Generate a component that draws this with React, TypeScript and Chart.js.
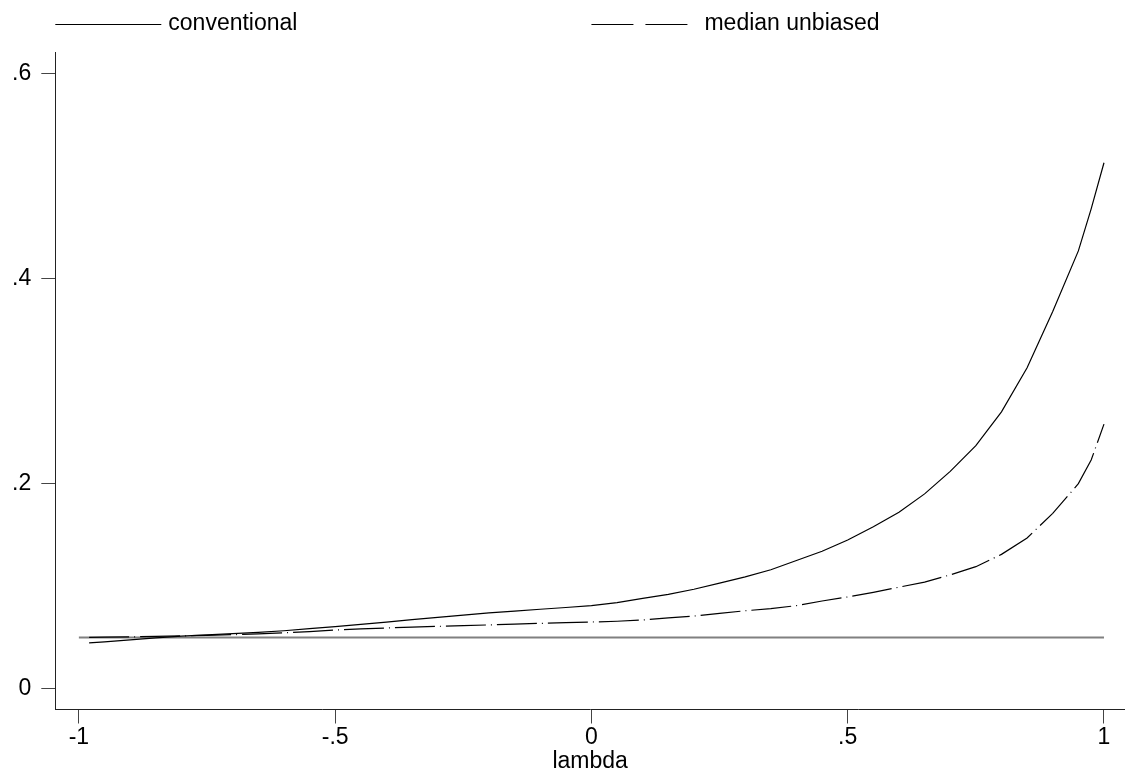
import React, { useEffect, useRef } from "react";
import { Chart, registerables } from "chart.js";

Chart.register(...registerables);

// lambda grid
const lambdaValues = [
  -0.98, -0.95, -0.9, -0.85, -0.8, -0.75, -0.7, -0.65, -0.6, -0.55, -0.5, -0.45, -0.4, -0.35, -0.3,
  -0.25, -0.2, -0.15, -0.1, -0.05, 0, 0.05, 0.1, 0.15, 0.2, 0.25, 0.3, 0.35, 0.4, 0.45, 0.5, 0.55,
  0.6, 0.65, 0.7, 0.75, 0.8, 0.85, 0.9, 0.95, 0.975, 1.0,
];

// conventional (solid)
const conventional = [
  0.0446, 0.0457, 0.0476, 0.0495, 0.0513, 0.0525, 0.0538, 0.055, 0.0565, 0.0585, 0.0605, 0.0627,
  0.065, 0.0673, 0.0696, 0.0718, 0.074, 0.0757, 0.0775, 0.0792, 0.081, 0.084, 0.088, 0.092, 0.097,
  0.103, 0.109, 0.116, 0.125, 0.134, 0.145, 0.158, 0.172, 0.19, 0.212, 0.237, 0.27, 0.313, 0.368,
  0.427, 0.468, 0.513,
];

// median unbiased (dashed)
const medianUnbiased = [
  0.05, 0.0502, 0.0505, 0.051, 0.0515, 0.052, 0.0527, 0.0535, 0.0545, 0.0557, 0.0573, 0.0583,
  0.0592, 0.06, 0.0608, 0.0615, 0.0622, 0.063, 0.0637, 0.0645, 0.065, 0.0658, 0.067, 0.069, 0.0708,
  0.0735, 0.076, 0.078, 0.081, 0.0855, 0.0895, 0.094, 0.099, 0.104, 0.111, 0.119, 0.131, 0.147,
  0.171, 0.2, 0.223, 0.258,
];

// nominal level reference line
const referenceX = [-1, 1];
const referenceY = [0.05, 0.05];

const xTickValues = [-1, -0.5, 0, 0.5, 1];
const xTickLabels = ["-1", "-.5", "0", ".5", "1"];
const yTickValues = [0, 0.2, 0.4, 0.6];
const yTickLabels = ["0", ".2", ".4", ".6"];
const seriesLabels = ["conventional", "median unbiased"];
const xAxisTitle = "lambda";

const FONT = "'Liberation Sans', Arial, Helvetica, sans-serif";

const legendPlugin = {
  id: "stataLegend",
  afterDraw(chart: any) {
    const ctx = chart.ctx;
    const left = chart.chartArea.left;
    const mid = chart.scales.x.getPixelForValue(0);
    ctx.save();
    ctx.strokeStyle = "#000";
    ctx.lineWidth = 1.2;
    ctx.beginPath();
    ctx.moveTo(left, 24.5);
    ctx.lineTo(left + 106, 24.5);
    ctx.stroke();
    ctx.setLineDash([42, 12]);
    ctx.beginPath();
    ctx.moveTo(mid, 24.5);
    ctx.lineTo(mid + 97, 24.5);
    ctx.stroke();
    ctx.setLineDash([]);
    ctx.font = `23px ${FONT}`;
    ctx.fillStyle = "#000";
    ctx.textBaseline = "alphabetic";
    ctx.textAlign = "left";
    ctx.fillText(seriesLabels[0], left + 113, 30);
    ctx.fillText(seriesLabels[1], mid + 113, 30);
    ctx.restore();
  },
};

export default function App() {
  const canvasRef = useRef<HTMLCanvasElement | null>(null);

  useEffect(() => {
    if (!canvasRef.current) return;
    const toPoints = (xs: number[], ys: number[]) => xs.map((x, i) => ({ x, y: ys[i] }));
    const chart = new Chart(canvasRef.current, {
      type: "line",
      data: {
        datasets: [
          {
            label: seriesLabels[0],
            data: toPoints(lambdaValues, conventional),
            borderColor: "#000",
            borderWidth: 1.2,
            pointRadius: 0,
            tension: 0,
            fill: false,
            order: 1,
          },
          {
            label: seriesLabels[1],
            data: toPoints(lambdaValues, medianUnbiased),
            borderColor: "#000",
            borderWidth: 1.2,
            borderDash: [40, 5, 1, 5],
            pointRadius: 0,
            tension: 0,
            fill: false,
            order: 2,
          },
          {
            label: "reference",
            data: toPoints(referenceX, referenceY),
            borderColor: "#808080",
            borderWidth: 2,
            pointRadius: 0,
            fill: false,
            order: 3,
          },
        ],
      },
      options: {
        responsive: false,
        animation: false,
        layout: { padding: { top: 52, right: 0, left: 0, bottom: 0 } },
        plugins: {
          legend: { display: false },
          tooltip: { enabled: false },
        },
        scales: {
          x: {
            type: "linear",
            min: -1.046,
            max: 1.041,
            afterBuildTicks: (scale: any) => {
              scale.ticks = xTickValues.map((v) => ({ value: v }));
            },
            afterFit: (scale: any) => {
              scale.height = 63.5;
            },
            border: { display: true, color: "#222", width: 1 },
            grid: { drawOnChartArea: false, drawTicks: true, tickLength: 14, color: "#444" },
            ticks: {
              color: "#000",
              font: { size: 23, family: FONT },
              padding: 0,
              maxRotation: 0,
              autoSkip: false,
              callback: (value: any) => {
                const i = xTickValues.indexOf(Number(value));
                return i >= 0 ? xTickLabels[i] : "";
              },
            },
            title: {
              display: true,
              text: xAxisTitle,
              color: "#000",
              font: { size: 23, family: FONT, lineHeight: 1 },
              padding: { top: 0, bottom: 0 },
            },
          },
          y: {
            type: "linear",
            min: -0.0203,
            max: 0.621,
            afterBuildTicks: (scale: any) => {
              scale.ticks = yTickValues.map((v) => ({ value: v }));
            },
            afterFit: (scale: any) => {
              scale.width = 55.3;
            },
            border: { display: true, color: "#222", width: 1 },
            grid: { drawOnChartArea: false, drawTicks: true, tickLength: 14, color: "#444" },
            ticks: {
              color: "#000",
              font: { size: 23, family: FONT },
              padding: 10,
              autoSkip: false,
              callback: (value: any) => {
                const i = yTickValues.findIndex((v) => Math.abs(v - Number(value)) < 1e-9);
                return i >= 0 ? yTickLabels[i] : "";
              },
            },
          },
        },
      },
      plugins: [legendPlugin],
    } as any);
    return () => chart.destroy();
  }, []);

  return (
    <div style={{ position: "fixed", left: 0, top: 0, width: 1125, height: 773, background: "#fff" }}>
      <canvas ref={canvasRef} width={1125} height={773} style={{ display: "block" }} />
    </div>
  );
}
